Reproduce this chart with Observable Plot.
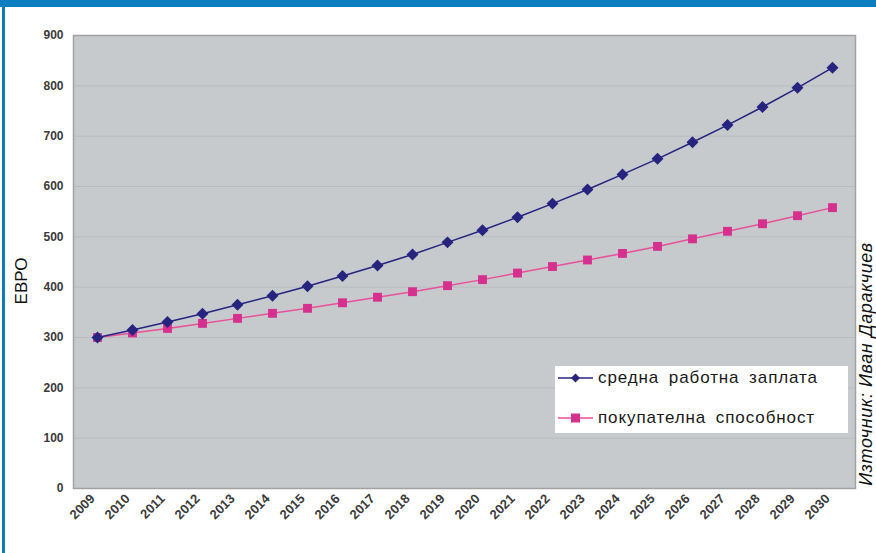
<!DOCTYPE html>
<html>
<head>
<meta charset="utf-8">
<script src="https://cdn.jsdelivr.net/npm/d3@7"></script>
<script src="https://cdn.jsdelivr.net/npm/@observablehq/plot@0.6"></script>
<style>
  html, body { margin: 0; padding: 0; background: #fff; }
  #wrap { position: relative; width: 876px; height: 553px; overflow: hidden; font-family: "Liberation Sans", Arial, sans-serif; }
  #topbar { position: absolute; left: 0; top: 0; width: 876px; height: 7px; background: #0b7dc1; }
  #leftbar { position: absolute; left: 2px; top: 0; width: 3px; height: 553px; background: #0b7dc1; }
  #chart { position: absolute; left: 0; top: 0; }
  #ylab { position: absolute; left: 22px; top: 281px; transform: translate(-50%, -50%) rotate(-90deg); font-size: 17px; color: #111; white-space: nowrap; }
  #src { position: absolute; left: 866px; top: 364px; transform: translate(-50%, -50%) rotate(-90deg); font-size: 18px; letter-spacing: 0.6px; font-style: italic; color: #111; white-space: nowrap; }
  #legend { position: absolute; left: 555px; top: 366px; width: 293px; height: 67px; background: #fff; }
  .item { position: absolute; left: 3px; display: flex; align-items: center; font-size: 17px; letter-spacing: 0.9px; word-spacing: 4px; color: #1a1a1a; white-space: nowrap; }
  .item svg { margin-right: 5px; }
</style>
</head>
<body>
<div id="wrap">
  <div id="chart"></div>
  <div id="topbar"></div>
  <div id="leftbar"></div>
  <div id="ylab">ЕВРО</div>
  <div id="src">Източник: Иван Даракчиев</div>
  <div id="legend"></div>
</div>
<script>
const years = [2009, 2010, 2011, 2012, 2013, 2014, 2015, 2016, 2017, 2018, 2019, 2020, 2021, 2022, 2023, 2024, 2025, 2026, 2027, 2028, 2029, 2030];
const salary = [300, 315, 331, 347, 365, 383, 402, 422, 443, 465, 489, 513, 539, 566, 594, 624, 655, 688, 722, 758, 796, 836];
const purchasing = [300, 309, 318, 328, 338, 348, 358, 369, 380, 391, 403, 415, 428, 441, 454, 467, 481, 496, 511, 526, 542, 558];
const seriesNames = ["средна работна заплата", "покупателна способност"];
const yTicks = [0, 100, 200, 300, 400, 500, 600, 700, 800, 900];

const salaryData = years.map((y, i) => ({year: String(y), value: salary[i]}));
const purchData = years.map((y, i) => ({year: String(y), value: purchasing[i]}));

const blue = "#26247f";
const pinkLine = "#e8509a";
const pinkDot = "#d6308f";

// rotated-square diamond (like the reference's markers)
const squareDiamond = {
  draw(ctx, size) {
    const h = Math.sqrt(size) * 0.75;
    ctx.moveTo(0, -h);
    ctx.lineTo(h, 0);
    ctx.lineTo(0, h);
    ctx.lineTo(-h, 0);
    ctx.closePath();
  }
};

const chart = Plot.plot({
  width: 876,
  height: 553,
  marginLeft: 73,
  marginRight: 21,
  marginTop: 35,
  marginBottom: 65,
  style: {background: "transparent", fontFamily: "'Liberation Sans', Arial, sans-serif"},
  x: {type: "point", domain: years.map(String), padding: 0.5, label: null},
  y: {domain: [0, 900], ticks: yTicks, label: null},
  marks: [
    Plot.frame({fill: "#c6cacd", stroke: "none"}),
    Plot.gridY(yTicks, {stroke: "#b8bcbf", strokeOpacity: 1, strokeWidth: 1}),
    Plot.frame({stroke: "#a2a2a2", strokeWidth: 1.5}),
    Plot.axisY({ticks: yTicks, tickSize: 0, tickPadding: 10, fontSize: 12, fontWeight: "bold", fill: "#3a3a3a", label: null}),
    Plot.axisX({ticks: [], label: null}),
    Plot.text(years.map(String), {x: d => d, frameAnchor: "bottom", dy: 11, dx: -2, rotate: -45, textAnchor: "end", fontSize: 13, fontWeight: "bold", fill: "#3a3a3a"}),
    Plot.line(purchData, {x: "year", y: "value", stroke: pinkLine, strokeWidth: 1.5}),
    Plot.line(salaryData, {x: "year", y: "value", stroke: blue, strokeWidth: 1.5}),
    Plot.dot(purchData, {x: "year", y: "value", symbol: "square", r: 5, fill: pinkDot, stroke: "none"}),
    Plot.dot(salaryData, {x: "year", y: "value", symbol: squareDiamond, r: 4.5, fill: blue, stroke: "none"})
  ]
});
document.getElementById("chart").appendChild(chart);

const legend = document.getElementById("legend");
const items = [
  {name: seriesNames[0], line: blue, fill: blue, sym: "diamond", top: 2},
  {name: seriesNames[1], line: pinkLine, fill: pinkDot, sym: "square", top: 42}
];
items.forEach(it => {
  const div = document.createElement("div");
  div.className = "item";
  div.style.top = it.top + "px";
  const marker = it.sym === "diamond"
    ? `<path d="M17.5,4.5 L22,9 L17.5,13.5 L13,9 Z" fill="${it.fill}"/>`
    : `<rect x="13" y="4.5" width="9" height="9" fill="${it.fill}"/>`;
  div.innerHTML = `<svg width="35" height="18"><line x1="0" y1="9" x2="35" y2="9" stroke="${it.line}" stroke-width="1.5"/>${marker}</svg><span>${it.name}</span>`;
  legend.appendChild(div);
});
</script>
</body>
</html>
